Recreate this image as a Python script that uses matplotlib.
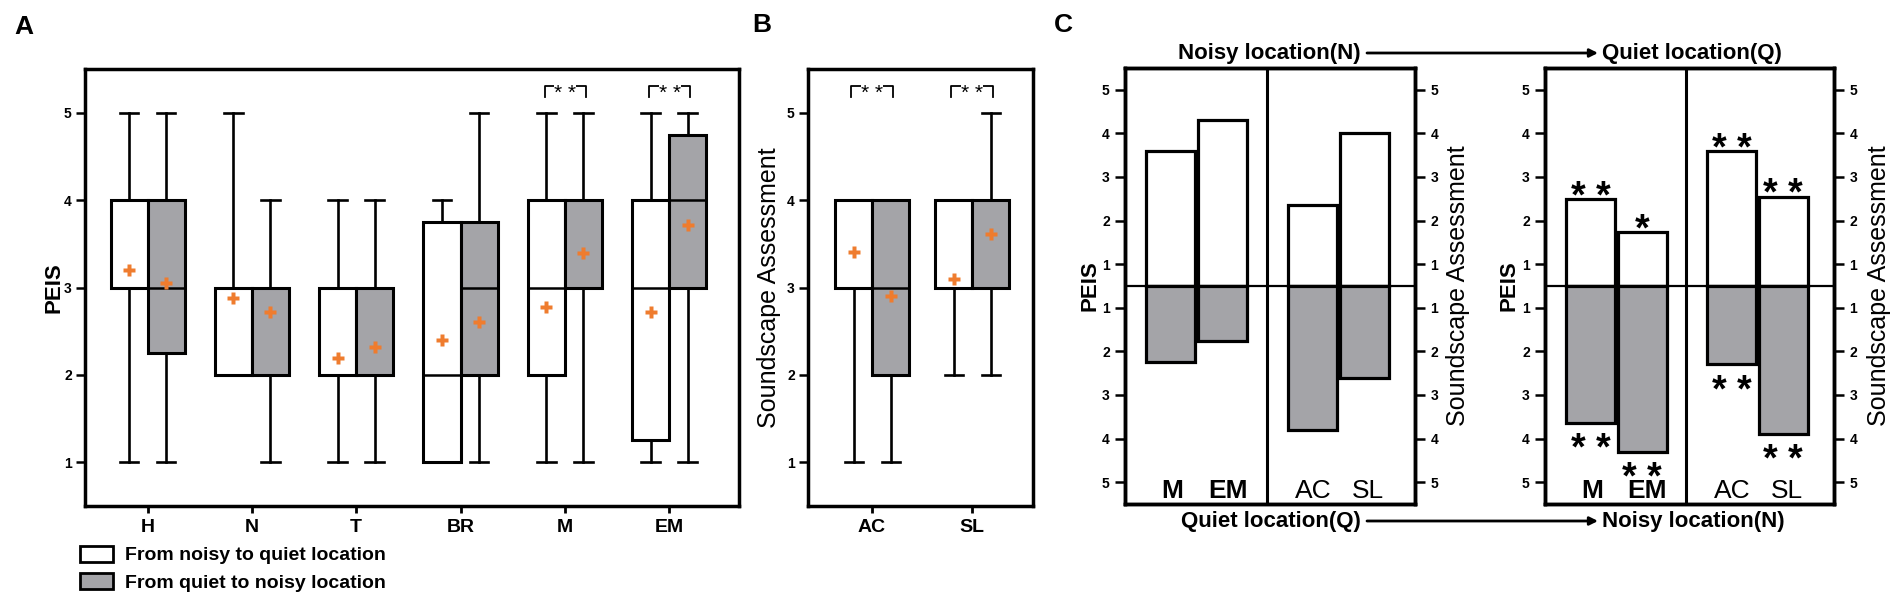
import numpy as np
import matplotlib.pyplot as plt
from matplotlib.patches import Patch

plt.rcParams['font.family'] = ['Liberation Sans', 'DejaVu Sans']

# ---- Panel A: PEIS box plots ----
cats_a = ['H', 'N', 'T', 'BR', 'M', 'EM']
# from noisy to quiet location (white boxes)
nq_lo = [1, 2, 1, 1, 1, 1]
nq_q1 = [3, 2, 2, 1, 2, 1.25]
nq_med = [3, 3, 2, 2, 3, 3]
nq_q3 = [4, 3, 3, 3.75, 4, 4]
nq_hi = [5, 5, 4, 4, 5, 5]
nq_mean = [3.2, 2.88, 2.19, 2.4, 2.78, 2.72]
# from quiet to noisy location (grey boxes)
qn_lo = [1, 1, 1, 1, 1, 1]
qn_q1 = [2.25, 2, 2, 2, 3, 3]
qn_med = [3, 3, 2, 3, 4, 4]
qn_q3 = [4, 3, 3, 3.75, 4, 4.75]
qn_hi = [5, 4, 4, 5, 5, 5]
qn_mean = [3.05, 2.72, 2.32, 2.6, 3.4, 3.71]
sig_a = ['', '', '', '', '* *', '* *']

# ---- Panel B: soundscape box plots ----
cats_b = ['AC', 'SL']
nq_lo_b = [1, 2]
nq_q1_b = [3, 3]
nq_med_b = [3, 3]
nq_q3_b = [4, 4]
nq_hi_b = [4, 4]
nq_mean_b = [3.41, 3.1]
qn_lo_b = [1, 2]
qn_q1_b = [2, 3]
qn_med_b = [3, 4]
qn_q3_b = [4, 4]
qn_hi_b = [4, 5]
qn_mean_b = [2.9, 3.61]
sig_b = ['* *', '* *']

# ---- Panel C: mean ratings per location ----
cats_c = ['M', 'EM', 'AC', 'SL']
cl_top = [3.6, 4.3, 2.35, 4.0]      # noisy location (N)
cl_bottom = [2.25, 1.75, 3.8, 2.6]  # quiet location (Q)
cr_top = [2.5, 1.75, 3.6, 2.55]     # quiet location (Q)
cr_bottom = [3.65, 4.3, 2.3, 3.9]   # noisy location (N)
cr_sig_top = ['* *', '*', '* *', '* *']
cr_sig_bottom = ['* *', '* *', '* *', '* *']

GREY = '#a4a4a8'
ORANGE = '#ef7c2e'
W, H = 1904, 600


def fig_rect(x0, y0, x1, y1):
    return [x0 / W, 1 - y1 / H, (x1 - x0) / W, (y1 - y0) / H]


def boxes(ax, pos, lo, q1, med, q3, hi, mean, width, color):
    stats = [dict(whislo=a, q1=b, med=c, q3=d, whishi=e, mean=f)
             for a, b, c, d, e, f in zip(lo, q1, med, q3, hi, mean)]
    ax.bxp(stats, positions=pos, widths=width, capwidths=0.18,
           patch_artist=True, showmeans=True, showfliers=False,
           boxprops=dict(facecolor=color, edgecolor='black', linewidth=2.2),
           whiskerprops=dict(color='black', linewidth=1.9),
           capprops=dict(color='black', linewidth=1.9),
           medianprops=dict(color='black', linewidth=1.8),
           meanprops=dict(marker='P', markerfacecolor=ORANGE,
                          markeredgecolor='none', markersize=8))


def bracket(ax, x0, x1, text):
    ax.plot([x0, x0, x1, x1], [5.18, 5.3, 5.3, 5.18], color='black', lw=1.3)
    ax.text((x0 + x1) / 2, 5.16, text, ha='center', va='baseline',
            fontsize=15, bbox=dict(facecolor='white', edgecolor='none', pad=0))


def style_box_axes(ax, cats, xlim):
    ax.set_xlim(*xlim)
    ax.set_ylim(0.5, 5.5)
    ax.set_xticks(range(len(cats)), cats, fontsize=14, fontweight='bold')
    ax.set_yticks([1, 2, 3, 4, 5], ['1', '2', '3', '4', '5'],
                  fontsize=10, fontweight='bold')
    ax.tick_params(axis='x', length=5, width=2, pad=4)
    ax.tick_params(axis='y', length=6.5, width=1.8, pad=3)
    for sp in ax.spines.values():
        sp.set_linewidth(2.5)


fig = plt.figure(figsize=(19.04, 6), dpi=100)

# Panel A
axa = fig.add_axes(fig_rect(85, 69, 739, 506))
xa = np.arange(len(cats_a))
wa = 0.355
boxes(axa, xa - wa / 2, nq_lo, nq_q1, nq_med, nq_q3, nq_hi, nq_mean, wa, 'white')
boxes(axa, xa + wa / 2, qn_lo, qn_q1, qn_med, qn_q3, qn_hi, qn_mean, wa, GREY)
style_box_axes(axa, cats_a, (-0.6, 5.67))
for i, s in enumerate(sig_a):
    if s:
        bracket(axa, i - 0.19, i + 0.2, s)
axa.set_ylabel('PEIS', fontsize=16, fontweight='bold')
axa.yaxis.set_label_coords(-0.031, 0.5)

# Panel B
axb = fig.add_axes(fig_rect(808, 69, 1033, 506))
xb = np.arange(len(cats_b))
wb = 0.37
boxes(axb, xb - wb / 2, nq_lo_b, nq_q1_b, nq_med_b, nq_q3_b, nq_hi_b, nq_mean_b, wb, 'white')
boxes(axb, xb + wb / 2, qn_lo_b, qn_q1_b, qn_med_b, qn_q3_b, qn_hi_b, qn_mean_b, wb, GREY)
style_box_axes(axb, cats_b, (-0.64, 1.61))
for i, s in enumerate(sig_b):
    bracket(axb, i - 0.21, i + 0.21, s)
axb.set_ylabel('Soundscape Assessment', fontsize=18)
axb.yaxis.set_label_coords(-0.12, 0.5)

legend = fig.legend(
    handles=[Patch(facecolor='white', edgecolor='black', lw=2),
             Patch(facecolor=GREY, edgecolor='black', lw=2)],
    labels=['From noisy to quiet location', 'From quiet to noisy location'],
    loc='upper left', bbox_to_anchor=(80 / W, 1 - 546 / H), frameon=False,
    prop=dict(size=14, weight='bold'), handlelength=1.7, handleheight=0.85,
    handletextpad=0.6, labelspacing=0.45, borderpad=0, borderaxespad=0)

# Panel C
c_pos = np.array([0.91, 1.95, 3.74, 4.78])
c_label_x = [0.95, 2.05, 3.76, 4.86]
c_weights = ['bold', 'bold', 'normal', 'normal']
c_ticks = [-4.5, -3.5, -2.5, -1.5, -0.5, 0.5, 1.5, 2.5, 3.5, 4.5]
c_ticklabels = ['5', '4', '3', '2', '1', '1', '2', '3', '4', '5']


def panel_c(rect, top, bottom, sig_top=None, sig_bottom=None, lab_x=-0.087, rlab_x=1.11):
    ax = fig.add_axes(rect)
    up = np.array(top) - 0.5
    down = -(np.array(bottom) - 0.5)
    ax.bar(c_pos, up, width=0.98, color='white', edgecolor='black', lw=2.3, zorder=2)
    ax.bar(c_pos, down, width=0.98, color=GREY, edgecolor='black', lw=2.3, zorder=2)
    ax.axhline(0, color='black', lw=1.6, zorder=3)
    ax.axvline(2.83, color='black', lw=2.2, zorder=3)
    ax.set_xlim(0, 5.8)
    ax.set_ylim(-5, 5)
    ax.set_xticks([])
    ax.set_yticks(c_ticks, c_ticklabels, fontsize=10, fontweight='bold')
    ax.tick_params(axis='y', length=7, width=1.8, pad=4)
    for sp in ax.spines.values():
        sp.set_linewidth(2.5)
    for x, lab, wt in zip(c_label_x, cats_c, c_weights):
        ax.text(x, -4.86, lab, ha='center', va='baseline', fontsize=19, fontweight=wt)
    if sig_top:
        for x, u, d, st, sb in zip(c_pos, up, down, sig_top, sig_bottom):
            ax.text(x, u - 0.2, st, ha='center', va='baseline', fontsize=27, fontweight='bold')
            ax.text(x, d - 0.85, sb, ha='center', va='baseline', fontsize=27, fontweight='bold')
    ax.set_ylabel('PEIS', fontsize=16, fontweight='bold')
    ax.yaxis.set_label_coords(lab_x, 0.5)
    ax2 = ax.twinx()
    ax2.set_ylim(-5, 5)
    ax2.set_yticks(c_ticks, c_ticklabels, fontsize=10, fontweight='bold')
    ax2.tick_params(axis='y', length=7, width=1.8, pad=4)
    for sp in ax2.spines.values():
        sp.set_linewidth(2.5)
    ax2.set_ylabel('Soundscape Assessment', fontsize=18)
    ax2.yaxis.set_label_coords(rlab_x, 0.5)
    return ax


panel_c(fig_rect(1125, 68, 1415, 504), cl_top, cl_bottom, lab_x=-0.083, rlab_x=1.107)
panel_c(fig_rect(1545, 68, 1834, 504), cr_top, cr_bottom, cr_sig_top, cr_sig_bottom,
        lab_x=-0.087, rlab_x=1.114)

# location arrows above and below panel C
arrow = dict(arrowstyle='-|>', lw=2, color='black', mutation_scale=12, shrinkA=0, shrinkB=0)
for y, left, right in [(53, 'Noisy location(N)', 'Quiet location(Q)'),
                       (521, 'Quiet location(Q)', 'Noisy location(N)')]:
    fig.text(1361 / W, 1 - y / H, left, ha='right', va='center', fontsize=16, fontweight='bold')
    fig.text(1602 / W, 1 - y / H, right, ha='left', va='center', fontsize=16, fontweight='bold')
    fig.add_artist(plt.Annotation('', xy=(1598 / W, 1 - y / H), xytext=(1367 / W, 1 - y / H),
                                  xycoords='figure fraction', arrowprops=arrow))

for x, y, lab in [(24, 27, 'A'), (762, 25, 'B'), (1063, 25, 'C')]:
    fig.text(x / W, 1 - y / H, lab, ha='center', va='center', fontsize=19, fontweight='bold')

fig.savefig('out.png', dpi=100)
